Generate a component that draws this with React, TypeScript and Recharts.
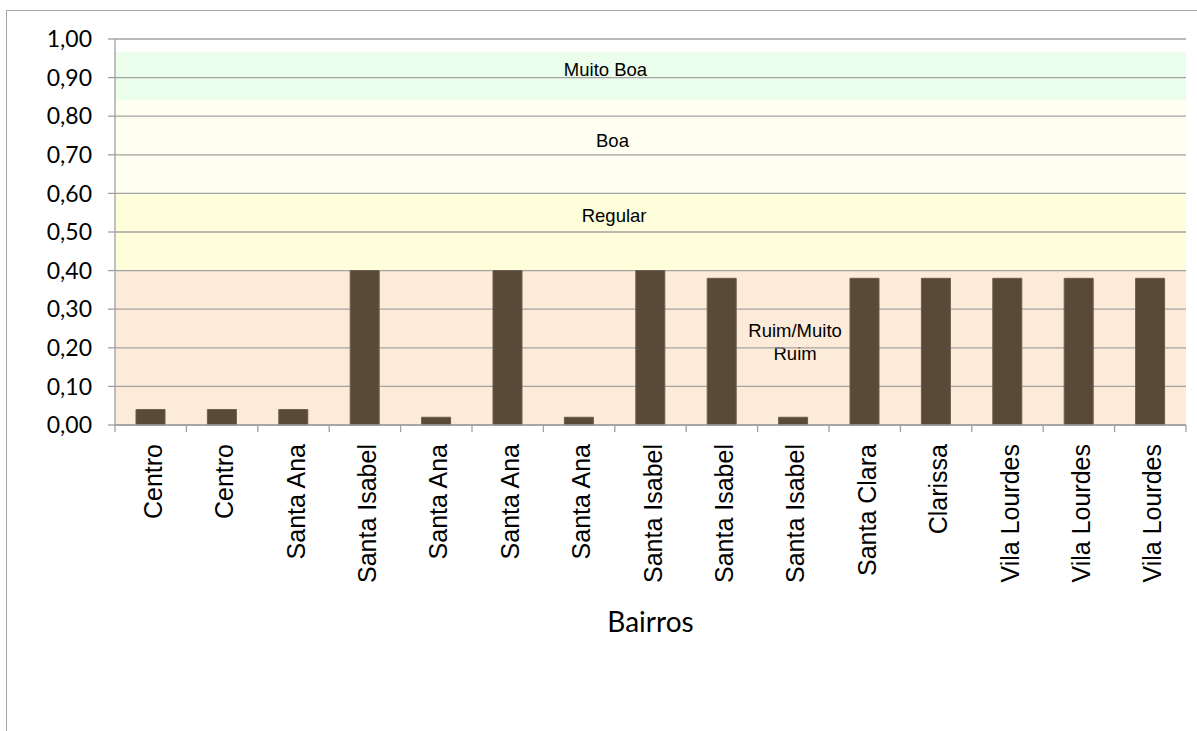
import { BarChart, Bar, XAxis, YAxis, CartesianGrid, ReferenceArea, Label } from "recharts"

// Bairros e índice por ponto de coleta
const bairros = [
    "Centro", "Centro", "Santa Ana", "Santa Isabel", "Santa Ana",
    "Santa Ana", "Santa Ana", "Santa Isabel", "Santa Isabel", "Santa Isabel",
    "Santa Clara", "Clarissa", "Vila Lourdes", "Vila Lourdes", "Vila Lourdes",
]
const indices = [0.04, 0.04, 0.04, 0.4, 0.02, 0.4, 0.02, 0.4, 0.38, 0.02, 0.38, 0.38, 0.38, 0.38, 0.38]

const yTicks = [0, 0.1, 0.2, 0.3, 0.4, 0.5, 0.6, 0.7, 0.8, 0.9, 1.0]

// Faixas de classificação (limite inferior, limite superior)
const faixaNomes = [["Ruim/Muito", "Ruim"], ["Regular"], ["Boa"], ["Muito Boa"]]
const faixaInicio = [0, 0.4, 0.6, 0.842]
const faixaFim = [0.4, 0.6, 0.842, 0.966]
// valor onde o rótulo de cada faixa fica
const faixaRotuloValor = [0.214, 0.541, 0.736, 0.92]

const faixaCores = ["#fdebda", "#fefedb", "#fefff1", "#eafeeb"]
const faixaRotuloX = [0.635, 0.466, 0.4645, 0.458]

const data = bairros.map((nome, i) => ({ nome, valor: indices[i] }))

const fmt = (v: number) => v.toFixed(2).replace(".", ",")

const BairroTick = (props: any) => {
    const { x, y, payload, index } = props
    const half = payload?.offset ?? 35.7
    const last = index === bairros.length - 1
    return (
        <g>
            <line x1={x - half} y1={y} x2={x - half} y2={y + 7} stroke="#a0a0a0" strokeWidth={1.3} />
            {last && <line x1={x + half} y1={y} x2={x + half} y2={y + 7} stroke="#a0a0a0" strokeWidth={1.3} />}
            <text
                x={x + 2}
                y={y + 19}
                transform={`rotate(-90 ${x + 2} ${y + 19})`}
                textAnchor="end"
                dominantBaseline="central"
                fontFamily="'Liberation Sans', Arial, sans-serif"
                fontSize={25}
                fill="#000"
            >
                {payload.value}
            </text>
        </g>
    )
}

const faixaLabel = (i: number) => (props: any) => {
    const vb = props.viewBox
    if (!vb) return null
    const lines = faixaNomes[i]
    const cx = vb.x + faixaRotuloX[i] * vb.width
    const cy = vb.y + ((faixaFim[i] - faixaRotuloValor[i]) / (faixaFim[i] - faixaInicio[i])) * vb.height
    return (
        <text
            x={cx}
            y={cy}
            textAnchor="middle"
            fontFamily="'Liberation Sans', Arial, sans-serif"
            fontSize={18.5}
            fill="#000"
        >
            {lines.map((l, k) => (
                <tspan key={k} x={cx} dy={k === 0 ? (-(lines.length - 1) * 11.5) + 6 : 23}>
                    {l}
                </tspan>
            ))}
        </text>
    )
}

export default function App() {
    return (
        <div style={{ position: "absolute", left: 0, top: 0, width: 1197, height: 731, overflow: "hidden", background: "#fff" }}>
            <div
                style={{
                    position: "absolute",
                    left: 6,
                    top: 10,
                    width: 1300,
                    height: 900,
                    border: "1.5px solid #a6a6a6",
                }}
            />
            <div style={{ position: "absolute", left: 0, top: 0 }}>
                <BarChart
                    width={1197}
                    height={731}
                    data={data}
                    margin={{ top: 39, right: 11, left: 0, bottom: 106 }}
                    barSize={29}
                >
                    {faixaInicio.map((from, i) => (
                        <ReferenceArea
                            key={i}
                            y1={from}
                            y2={faixaFim[i]}
                            fill={faixaCores[i]}
                            fillOpacity={1}
                            stroke="none"
                            zIndex={-200}
                            label={faixaLabel(i)}
                        />
                    ))}
                    <CartesianGrid vertical={false} stroke="#a3a3a3" strokeWidth={1.3} />
                    <XAxis
                        dataKey="nome"
                        interval={0}
                        height={200}
                        tickLine={false}
                        tickSize={0}
                        tickMargin={0}
                        axisLine={{ stroke: "#a0a0a0", strokeWidth: 1.3 }}
                        tick={<BairroTick />}
                    >
                        <Label
                            content={(p: any) => {
                                const vb = p.viewBox
                                if (!vb) return null
                                return (
                                    <text
                                        x={vb.x + vb.width / 2}
                                        y={vb.y + 207}
                                        textAnchor="middle"
                                        fontFamily="Lato, 'Open Sans', sans-serif"
                                        fontSize={28}
                                        fill="#000"
                                    >
                                        Bairros
                                    </text>
                                )
                            }}
                        />
                    </XAxis>
                    <YAxis
                        width={115}
                        domain={[0, 1]}
                        ticks={yTicks}
                        interval={0}
                        tickFormatter={fmt}
                        tickSize={7}
                        tickMargin={16}
                        axisLine={{ stroke: "#a0a0a0", strokeWidth: 1.3 }}
                        tickLine={{ stroke: "#a0a0a0", strokeWidth: 1.3 }}
                        tick={{ fill: "#000", fontFamily: "Lato, 'Open Sans', sans-serif", fontSize: 23 }}
                    />
                    <Bar dataKey="valor" fill="#594a37" stroke="#6b5d4c" strokeWidth={1} isAnimationActive={false} />
                </BarChart>
            </div>
        </div>
    )
}
